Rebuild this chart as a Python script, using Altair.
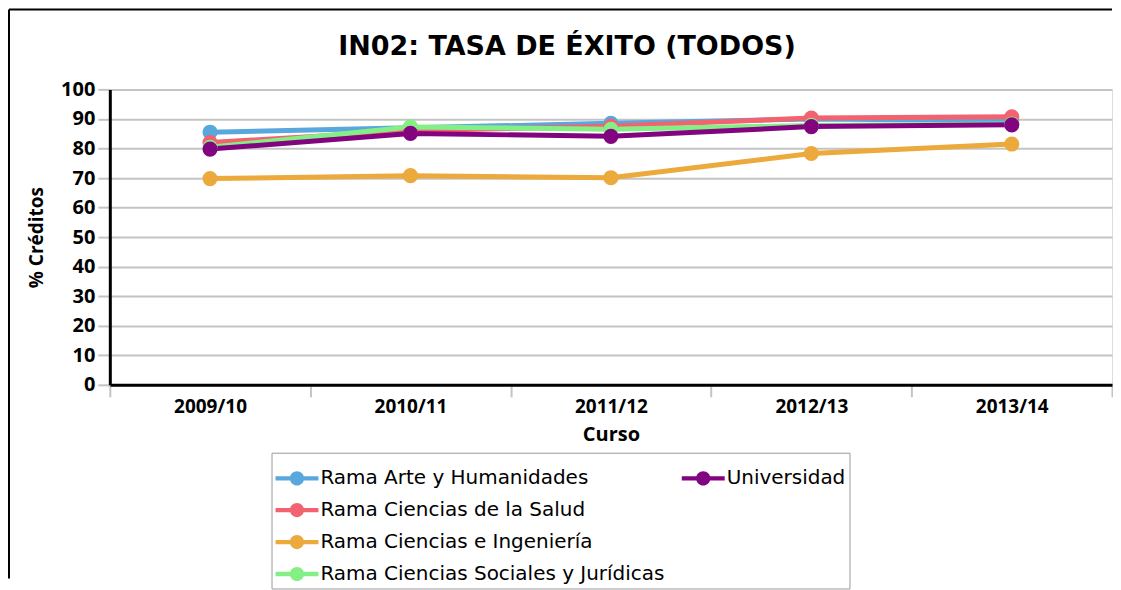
import altair as alt
import pandas as pd

# ---- data ----
cursos = ["2009/10", "2010/11", "2011/12", "2012/13", "2013/14"]
arte = [85.5, 87.0, 88.5, 90.0, 89.5]
salud = [82.0, 86.0, 87.5, 90.3, 90.7]
ingenieria = [69.8, 70.8, 70.1, 78.3, 81.5]
sociales = [80.4, 87.3, 86.5, 87.8, 88.3]
universidad = [79.8, 85.1, 84.1, 87.4, 88.0]

series_names = [
    "Rama Arte y Humanidades",
    "Rama Ciencias de la Salud",
    "Rama Ciencias e Ingeniería",
    "Rama Ciencias Sociales y Jurídicas",
    "Universidad",
]
series_colors = ["#58a8de", "#f2626f", "#eca93c", "#84ef84", "#82057f"]
series_values = [arte, salud, ingenieria, sociales, universidad]

titulo = "IN02: TASA DE ÉXITO (TODOS)"

rows = []
for order, (name, vals) in enumerate(zip(series_names, series_values)):
    for c, v in zip(cursos, vals):
        rows.append({"serie": name, "curso": c, "valor": v, "orden": order})
df = pd.DataFrame(rows)

# legend is filled column by column (4 rows); blank fillers keep
# "Universidad" alone at the top of the second column
blanks = [" ", "  ", "   "]
legend_domain = series_names + blanks
legend_colors = series_colors + ["transparent"] * len(blanks)

W, H = 1004, 296
AXIS_FONT = "Open Sans"

color_scale = alt.Scale(domain=legend_domain, range=legend_colors)

x_enc = alt.X(
    "curso:N",
    sort=cursos,
    bandPosition=0.5,
    scale=alt.Scale(type="band", paddingInner=0, paddingOuter=0),
    axis=alt.Axis(
        title="Curso",
        tickBand="extent",
        labelAngle=0,
        labelFont=AXIS_FONT,
        labelFontWeight="bold",
        labelFontSize=19,
        labelColor="black",
        labelPadding=1,
        tickSize=12,
        tickWidth=2,
        tickColor="#c4c4c4",
        domainColor="black",
        domainWidth=3,
        grid=False,
        titleFont=AXIS_FONT,
        titleFontWeight="bold",
        titleFontSize=20,
        titleColor="black",
        titleBaseline="middle",
        titleY=50,
    ),
)

y_enc = alt.Y(
    "valor:Q",
    scale=alt.Scale(domain=[0, 100], nice=False),
    axis=alt.Axis(
        title="% Créditos",
        values=list(range(0, 101, 10)),
        labelFont=AXIS_FONT,
        labelFontWeight="bold",
        labelFontSize=20,
        labelColor="black",
        labelPadding=3,
        tickSize=12,
        tickWidth=2,
        tickColor="#c4c4c4",
        domainColor="black",
        domainWidth=3,
        gridColor="#c4c4c4",
        gridWidth=2,
        titleFont=AXIS_FONT,
        titleFontWeight="bold",
        titleFontSize=19,
        titleColor="black",
        titleX=-73,
        titleY=H / 2,
        titleBaseline="middle",
        titleAlign="center",
        titleAngle=270,
    ),
)

symbol_path = (
    "M-1,-0.1H1V0.1H-1Z "
    "M-0.33,0A0.33,0.33 0 1,1 0.33,0A0.33,0.33 0 1,1 -0.33,0Z"
)

legend = alt.Legend(
    title=None,
    orient="none",
    legendX=162,
    legendY=364,
    direction="vertical",
    columns=2,
    columnPadding=17,
    rowPadding=0,
    padding=4,
    strokeColor="#9a9a9a",
    fillColor="white",
    symbolType=symbol_path,
    symbolSize=1849,
    symbolStrokeWidth=0,
    symbolOpacity=1,
    labelFont="DejaVu Sans",
    labelFontSize=20,
    labelColor="black",
    labelOffset=2,
    labelLimit=500,
)

color_enc = alt.Color("serie:N", scale=color_scale, legend=legend)

base = alt.Chart(df)

lines = base.mark_line(strokeWidth=5).encode(
    x=x_enc,
    y=y_enc,
    color=color_enc,
    detail="serie:N",
    order="orden:Q",
)

points = base.mark_circle(size=230, opacity=1).encode(
    x=x_enc,
    y=y_enc,
    color=color_enc,
    order="orden:Q",
)

single = alt.Chart(pd.DataFrame({"titulo": [titulo]}))
frame_top = single.mark_rule(color="black", strokeWidth=2).encode(
    x=alt.value(-101), x2=alt.value(W), y=alt.value(-80)
)
frame_left = single.mark_rule(color="black", strokeWidth=2).encode(
    x=alt.value(-101), y=alt.value(-80), y2=alt.value(490)
)
title_text = single.mark_text(
    font="DejaVu Sans",
    fontSize=27,
    fontWeight="bold",
    color="black",
    align="center",
    baseline="alphabetic",
).encode(text="titulo:N", x=alt.value(458), y=alt.value(-34))

chart = (
    alt.layer(frame_top, frame_left, title_text, lines, points)
    .properties(width=W, height=H, padding=0)
    .configure_view(fill="#eef0f0", stroke=None)
    .configure(background="white")
)

chart.save("out.html", embed_options={"renderer": "svg", "actions": False})
